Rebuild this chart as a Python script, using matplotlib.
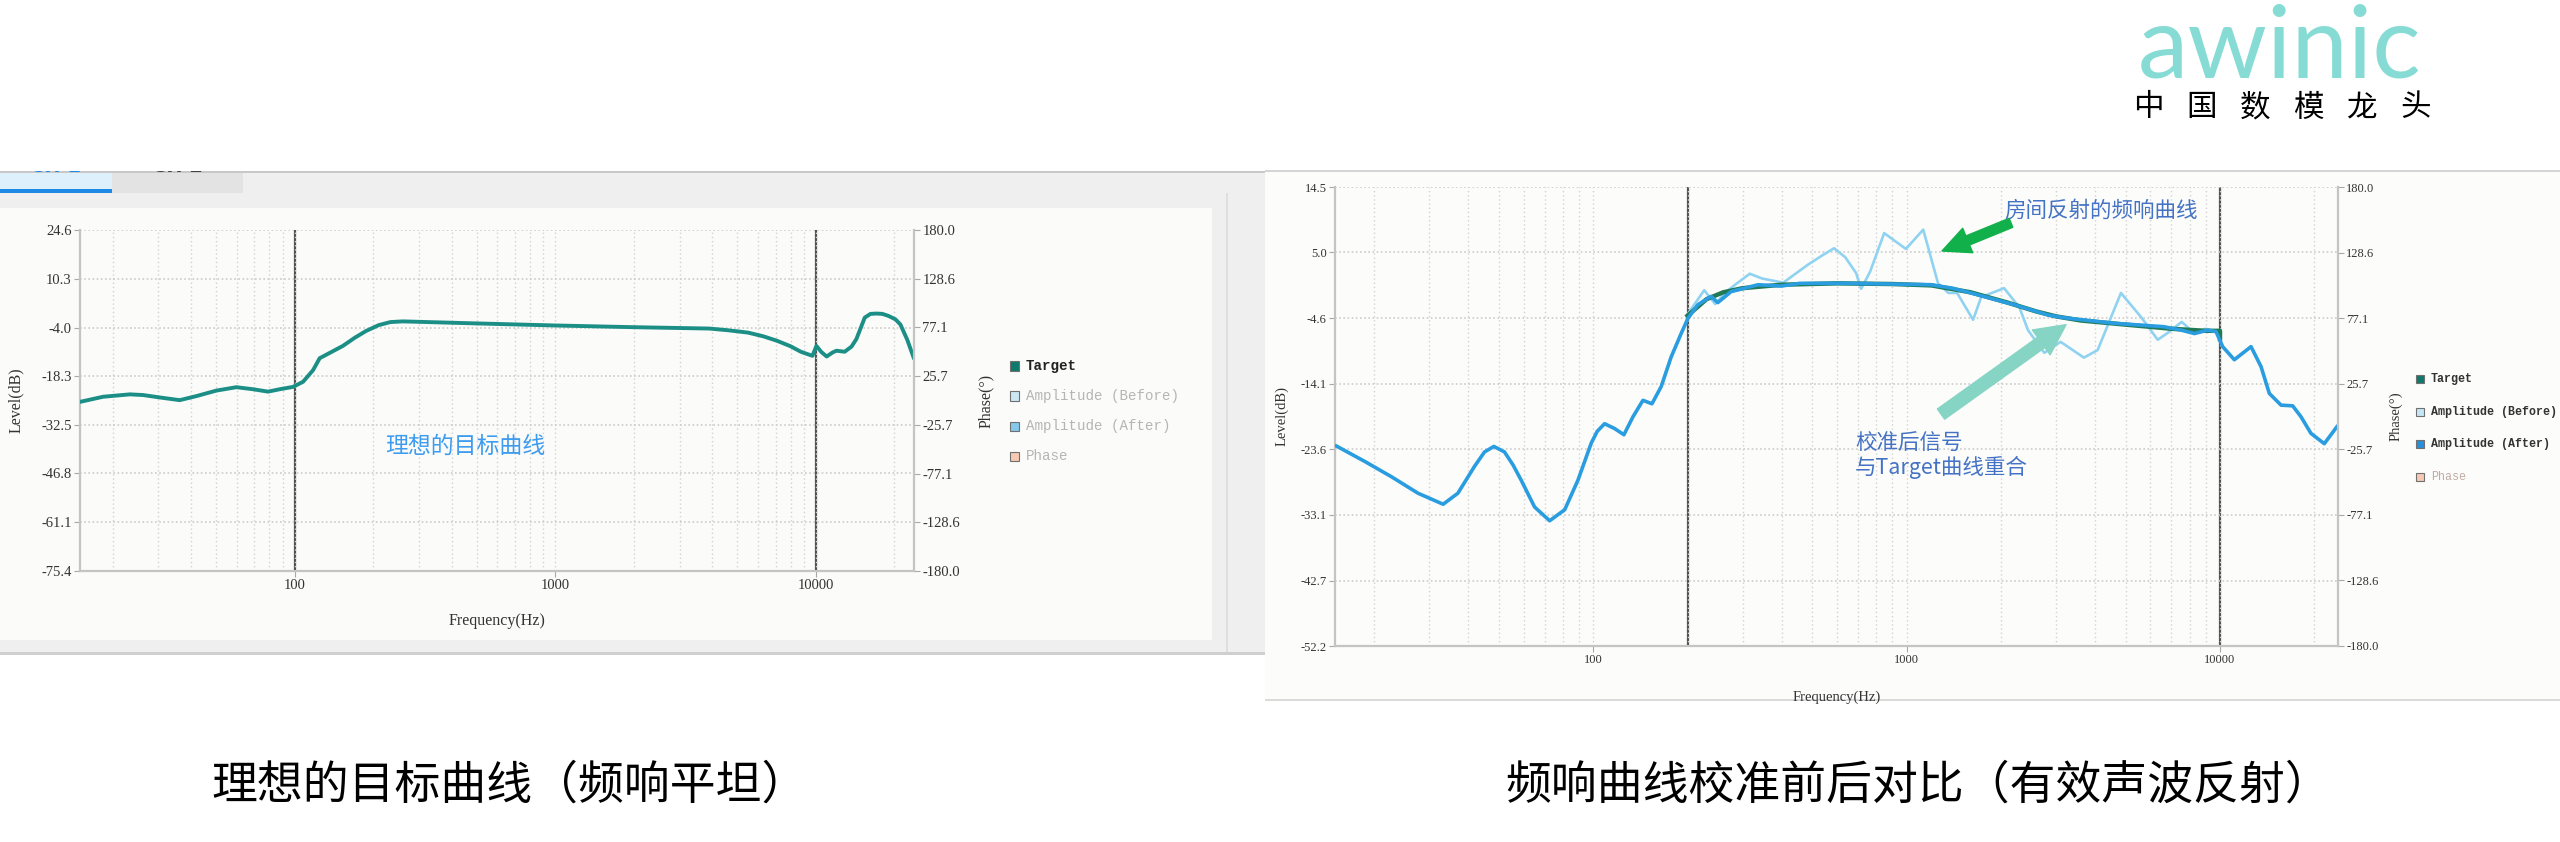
import matplotlib

matplotlib.use("Agg")
import matplotlib.pyplot as plt
from matplotlib.patches import Rectangle
from matplotlib.ticker import LogLocator, NullFormatter

# ---- data ----
# left panel: ideal target curve
L_TARGET_FREQ = [15, 18.4, 23.3, 26.2, 30.3, 36.2, 42, 50, 59.7, 69.2, 79, 87.6,
                 98.6, 107.7, 117.6, 124.7, 135, 153, 170, 188, 210, 233, 260,
                 290, 500, 1000, 2000, 3900, 4600, 5500, 6300, 7100, 8000, 8750,
                 9700, 10050, 10500, 11000, 11600, 12000, 12900, 13700, 14300,
                 15400, 16200, 17100, 18000, 19000, 20200, 21100, 22400, 23800]
L_TARGET_LEVEL = [-25.8, -24.3, -23.6, -23.8, -24.5, -25.3, -24.1, -22.5, -21.5,
                  -22.1, -22.8, -22.1, -21.4, -19.9, -16.5, -13.0, -11.6, -9.4,
                  -7.0, -5.0, -3.3, -2.4, -2.2, -2.3, -2.8, -3.4, -3.9, -4.3,
                  -4.8, -5.5, -6.6, -7.9, -9.5, -11.1, -12.3, -9.4, -11.2, -12.5,
                  -11.3, -10.8, -11.1, -9.6, -7.4, -1.1, 0.0, 0.1, 0.0, -0.6,
                  -1.6, -3.1, -7.5, -13.1]

# right panel: response after calibration (same as "before" outside the band)
R_AFTER_FREQ = [15.1, 18.7, 22.7, 27.6, 33.2, 37.0, 41.8, 45, 48.2, 52.1, 55.5,
                58.9, 65.0, 72.6, 81.1, 89.4, 98.6, 103, 108.7, 117, 125.3, 133.9,
                144.1, 154, 164.8, 177.3, 190.8, 200.5, 215.8, 237.8, 249.8, 275.4,
                336, 398, 456, 637, 891, 1195, 1400, 1730, 2203, 2825, 3180, 4580,
                6620, 7520, 8290, 9140, 9710, 10200, 11110, 12560, 13520, 14370,
                15660, 17060, 18140, 19510, 21520, 23730]
R_AFTER_LEVEL = [-23.1, -25.4, -27.6, -30.0, -31.6, -30.0, -26.1, -24.0, -23.2,
                 -24.0, -25.9, -28.1, -32.0, -34.0, -32.4, -28.1, -22.7, -21.0,
                 -19.9, -20.6, -21.5, -18.9, -16.5, -17.0, -14.5, -10.2, -6.8,
                 -4.6, -2.6, -1.4, -2.3, -0.7, 0.3, 0.1, 0.5, 0.5, 0.4, 0.3, -0.2,
                 -1.3, -2.6, -4.1, -4.5, -5.3, -5.8, -6.3, -6.8, -6.3, -6.5, -8.7,
                 -10.6, -8.7, -11.6, -15.5, -17.2, -17.3, -18.9, -21.3, -22.8,
                 -20.2]

# right panel: room-reflection response before calibration (200 Hz - 10 kHz)
R_BEFORE_FREQ = [200, 213, 226, 245, 265, 280, 316, 346, 404, 484, 540, 587, 637,
                 690, 716, 765, 848, 995, 1130, 1260, 1360, 1450, 1630, 1730,
                 2047, 2291, 2440, 2750, 3100, 3680, 4070, 4830, 5600, 6330,
                 6860, 7550, 8250, 9000, 9800, 10000]
R_BEFORE_LEVEL = [-4.0, -2.2, -0.5, -2.5, -0.8, 0.1, 1.9, 1.2, 0.6, 3.2, 4.6, 5.6,
                  4.3, 2.0, -0.3, 2.2, 7.8, 5.5, 8.3, 0.5, -0.9, -0.9, -4.8, -1.5,
                  -0.2, -3.0, -6.3, -9.6, -8.0, -10.3, -9.2, -0.9, -4.4, -7.7,
                  -6.6, -5.1, -6.7, -6.1, -6.6, -6.9]

# right panel: target curve
R_TARGET_FREQ = [200, 230, 260, 300, 400, 600, 900, 1200, 1600, 2100, 2600, 3000,
                 3600, 5000, 7000, 9000, 10000, 10000]
R_TARGET_LEVEL = [-4.2, -1.8, -0.8, -0.2, 0.3, 0.5, 0.4, 0.2, -0.8, -2.3, -3.6,
                  -4.3, -4.9, -5.5, -6.1, -6.4, -6.4, -7.6]

L_LEVEL_TICKS = [-75.4, -61.1, -46.8, -32.5, -18.3, -4.0, 10.3, 24.6]
R_LEVEL_TICKS = [-52.2, -42.7, -33.1, -23.6, -14.1, -4.6, 5.0, 14.5]
PHASE_TICKS = [-180.0, -128.6, -77.1, -25.7, 25.7, 77.1, 128.6, 180.0]
FREQ_TICKS = [100, 1000, 10000]
FREQ_LIM = (15, 23800)
L_MARKERS = [100, 10000]
R_MARKERS = [200, 10000]
LEGEND_LABELS = ["Target", "Amplitude (Before)", "Amplitude (After)", "Phase"]

CJK = ["Noto Sans CJK SC", "DejaVu Sans"]
SERIF = "Liberation Serif"
MONO = "Liberation Mono"

W, H = 2560, 842
fig = plt.figure(figsize=(25.6, 8.42), dpi=100)


def fx(px):
    return px / W


def fy(py):
    return 1 - py / H


def frect(x0, y0, x1, y1, **kw):
    r = Rectangle((fx(x0), fy(y1)), (x1 - x0) / W, (y1 - y0) / H,
                  transform=fig.transFigure, **kw)
    fig.patches.append(r)
    return r


# ---- screenshot frames ----
frect(0, 172, 1265, 655, facecolor="#efefef", edgecolor="none", zorder=-5)
frect(0, 208, 1212, 640, facecolor="#fbfbf9", edgecolor="none", zorder=-4)
frect(0, 172, 112, 189, facecolor="#ddf0fc", edgecolor="none", zorder=-3)
frect(0, 189, 112, 193, facecolor="#1e88e5", edgecolor="none", zorder=-3)
frect(112, 172, 243, 193, facecolor="#e3e3e3", edgecolor="none", zorder=-3)
frect(0, 171, 1265, 172.5, facecolor="#c8c8c8", edgecolor="none", zorder=-3)
frect(1226, 193, 1228, 655, facecolor="#dedede", edgecolor="none", zorder=-3)
frect(0, 652, 1265, 655, facecolor="#cfcfcf", edgecolor="none", zorder=-3)
fig.text(fx(56), fy(176), "CH 1", color="#1e88e5", fontsize=14, ha="center",
         va="bottom", family="DejaVu Sans", weight="bold", zorder=-2)
fig.text(fx(178), fy(176), "CH 2", color="#444444", fontsize=14, ha="center",
         va="bottom", family="DejaVu Sans", weight="bold", zorder=-2)
frect(0, 0, 1265, 171, facecolor="white", edgecolor="none", zorder=-1)

frect(1265, 171, 2560, 700, facecolor="#fcfdfb", edgecolor="none", zorder=-5)
frect(1265, 170, 2560, 172, facecolor="#d4d4d4", edgecolor="none", zorder=-3)
frect(1265, 699, 2560, 701, facecolor="#dadada", edgecolor="none", zorder=-3)


def setup_axes(rect, level_ticks, markers, tick_fs, label_fs, label_pos):
    ax = fig.add_axes(rect)
    ax.set_facecolor("none")
    ax.set_xscale("log")
    ax.set_xlim(*FREQ_LIM)
    ax.set_ylim(level_ticks[0], level_ticks[-1])
    ax.set_yticks(level_ticks, labels=[f"{v:.1f}" for v in level_ticks])
    ax.set_xticks(FREQ_TICKS, labels=[str(v) for v in FREQ_TICKS])
    ax.xaxis.set_minor_locator(LogLocator(base=10, subs=range(2, 10)))
    ax.xaxis.set_minor_formatter(NullFormatter())
    ax.grid(True, which="both", axis="x", color="#d2d2d2", lw=1.0, ls=(0, (1, 2)))
    ax.grid(True, which="major", axis="y", color="#cccccc", lw=1.2, ls=(0, (1, 1.5)))
    for s in ("top", "right"):
        ax.spines[s].set_visible(False)
    for s in ("left", "bottom"):
        ax.spines[s].set_color("#c4c4c4")
        ax.spines[s].set_linewidth(1.6)
    ax.tick_params(which="major", length=4, color="#a8a8a8", labelsize=tick_fs,
                   labelcolor="#333333", pad=2)
    ax.tick_params(which="minor", length=0)
    for t in ax.get_xticklabels() + ax.get_yticklabels():
        t.set_family(SERIF)
    for m in markers:
        ax.axvline(m, color="#505050", lw=1.6, zorder=1.5)
    ax.set_xlabel("Frequency(Hz)", family=SERIF, fontsize=label_fs, color="#333333")
    ax.set_ylabel("Level(dB)", family=SERIF, fontsize=label_fs, color="#333333")
    ax.xaxis.set_label_coords(0.5, label_pos[0])
    ax.yaxis.set_label_coords(label_pos[1], 0.5)

    ax2 = ax.twinx()
    ax2.set_ylim(-180, 180)
    ax2.set_yticks(PHASE_TICKS, labels=[f"{v:.1f}" for v in PHASE_TICKS])
    for s in ("top", "left", "bottom"):
        ax2.spines[s].set_visible(False)
    ax2.spines["right"].set_color("#c4c4c4")
    ax2.spines["right"].set_linewidth(1.6)
    ax2.tick_params(length=4, color="#a8a8a8", labelsize=tick_fs,
                    labelcolor="#333333", pad=2)
    for t in ax2.get_yticklabels():
        t.set_family(SERIF)
    ax2.set_ylabel("Phase(°)", family=SERIF, fontsize=label_fs, color="#333333")
    ax2.yaxis.set_label_coords(label_pos[2], 0.5)
    return ax


def draw_legend(x0, y0, step, size, face, text_colors, fs, weights):
    for i, lab in enumerate(LEGEND_LABELS):
        y = y0 + i * step
        frect(x0, y - size / 2, x0 + size, y + size / 2, facecolor=face[i],
              edgecolor="#707070", lw=0.8, zorder=3)
        fig.text(fx(x0 + size + 7), fy(y), lab, family=MONO, fontsize=fs,
                 color=text_colors[i], weight=weights[i], va="center", ha="left")


# ---- left panel ----
axl = setup_axes([fx(80), fy(571), 834 / W, 341 / H], L_LEVEL_TICKS, L_MARKERS,
                 10.5, 11.5, (-0.123, -0.067, 1.077))
axl.plot(L_TARGET_FREQ, L_TARGET_LEVEL, color="#1b8f86", lw=2.8,
         solid_joinstyle="round", solid_capstyle="round", zorder=3)
axl.text(0.462, 0.366, "理想的目标曲线", transform=axl.transAxes, family=CJK,
         fontsize=16.5, color="#3d9cf0", ha="center", va="center")
draw_legend(1010, 366, 30, 9, ["#0d7a6c", "#cbe8f5", "#86c8ec", "#f5c9b3"],
            ["#222222", "#b5b5b5", "#b5b5b5", "#b5b5b5"], 10.2,
            ["bold", "normal", "normal", "normal"])

# ---- right panel ----
axr = setup_axes([fx(1335), fy(646), 1003 / W, 459 / H], R_LEVEL_TICKS, R_MARKERS,
                 9, 10.5, (-0.098, -0.046, 1.051))
axr.plot(R_BEFORE_FREQ, R_BEFORE_LEVEL, color="#8fd2f1", lw=1.9,
         solid_joinstyle="round", zorder=2.5)
axr.plot(R_TARGET_FREQ, R_TARGET_LEVEL, color="#1f7a55", lw=3.2,
         solid_joinstyle="round", zorder=2.7)
axr.plot(R_AFTER_FREQ, R_AFTER_LEVEL, color="#2a9de0", lw=2.6,
         solid_joinstyle="round", solid_capstyle="round", zorder=3)
axr.annotate("", xy=(1297, 5.2), xytext=(2153, 9.3),
             arrowprops=dict(arrowstyle="simple,head_length=1.0,head_width=0.95,tail_width=0.35",
                             color="#12b04a", shrinkA=0, shrinkB=0, mutation_scale=20),
             zorder=4)
axr.annotate("", xy=(3228, -5.5), xytext=(1288, -18.5),
             arrowprops=dict(arrowstyle="simple,head_length=1.1,head_width=1.1,tail_width=0.45",
                             color="#86d4c4", shrinkA=0, shrinkB=0, mutation_scale=20),
             zorder=4)
fig.text(fx(2101), fy(211), "房间反射的频响曲线", family=CJK, fontsize=15.5,
         color="#4472c4", ha="center", va="center")
fig.text(fx(1855), fy(456), "校准后信号\n与Target曲线重合", family=CJK,
         fontsize=15.5, color="#4472c4", ha="left", va="center", linespacing=1.05)
draw_legend(2416, 379, 32.7, 8, ["#0d7a6c", "#c5e6f5", "#2a8fd8", "#f5c9b3"],
            ["#333333", "#333333", "#333333", "#c0aaa2"], 8.4,
            ["bold", "bold", "bold", "normal"])

# ---- logo and captions ----
fig.text(fx(2280), fy(77), "awinic", family="Lato", fontsize=73, color="#86dcd4",
         ha="center", va="baseline")
for i, ch in enumerate("中国数模龙头"):
    fig.text(fx(2148 + i * 53.5), fy(108), ch, family=CJK, fontsize=22,
             color="black", ha="center", va="center")

fig.text(fx(510), fy(785), "理想的目标曲线（频响平坦）", family=CJK, fontsize=33,
         color="black", ha="center", va="center")
fig.text(fx(1918), fy(785), "频响曲线校准前后对比（有效声波反射）", family=CJK,
         fontsize=33, color="black", ha="center", va="center")

fig.savefig("out.png", dpi=100)
